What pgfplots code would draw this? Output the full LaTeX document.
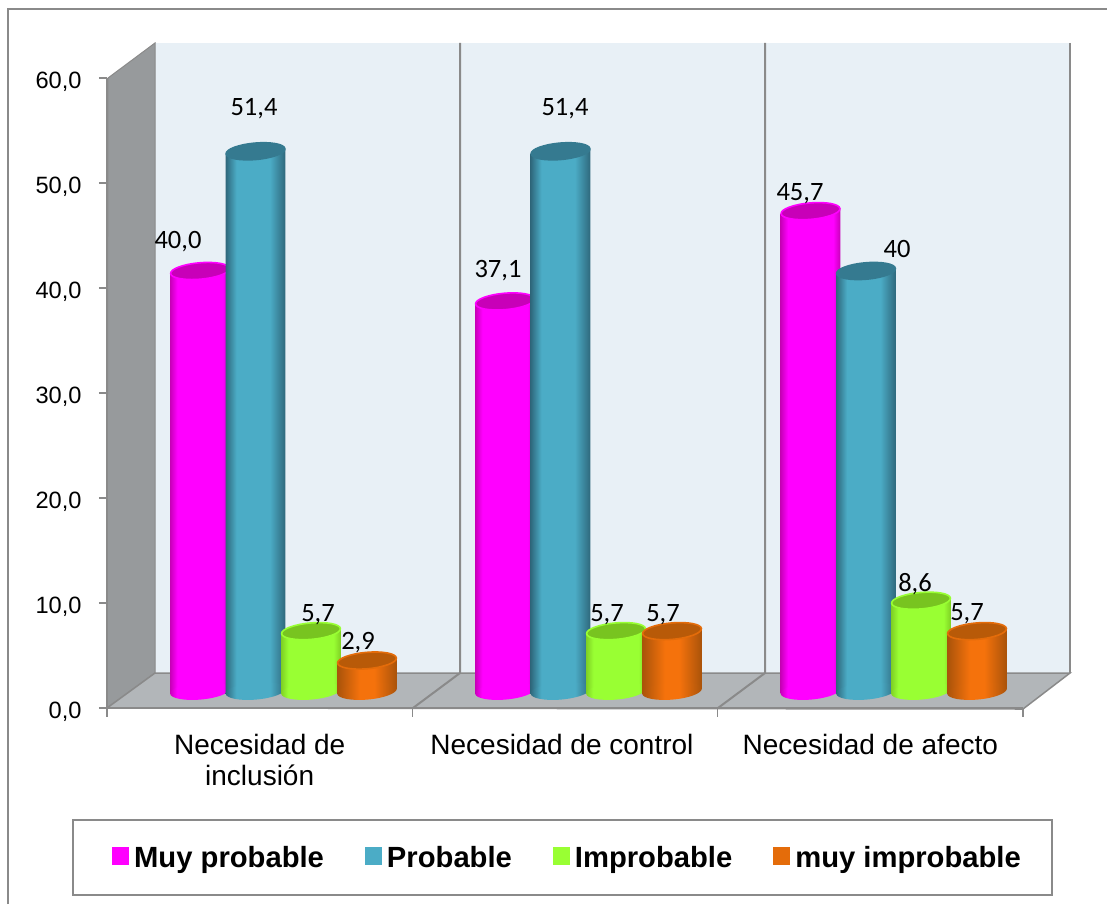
\documentclass[border=0pt]{standalone}
\usepackage{pgfplots}
\pgfplotsset{compat=1.18}
\usepackage{fontspec}
\setmainfont{Liberation Sans}
\newfontfamily\labelfont{Carlito}

% Palette
\definecolor{wallback}{HTML}{E8F0F6}
\definecolor{wallside}{HTML}{979A9C}
\definecolor{wallfloor}{HTML}{B2B6B9}
\definecolor{rule}{HTML}{8A8A8A}
\definecolor{edgeM}{HTML}{FF00FF}
\definecolor{capM}{HTML}{C800B8}
\definecolor{edgeB}{HTML}{357A90}
\definecolor{capB}{HTML}{357A90}
\definecolor{edgeG}{HTML}{99FF33}
\definecolor{capG}{HTML}{78C420}
\definecolor{edgeO}{HTML}{E46C0A}
\definecolor{capO}{HTML}{B85A08}

% Cylinder body shadings: dark rims, bright centre
\pgfdeclarehorizontalshading{cylM}{100bp}{color(0bp)=(capM); color(25bp)=(capM); color(31bp)=(edgeM); color(69bp)=(edgeM); color(75bp)=(capM); color(100bp)=(capM)}
\definecolor{midB}{HTML}{4BACC6}
\definecolor{rimB}{HTML}{2F687C}
\pgfdeclarehorizontalshading{cylB}{100bp}{color(0bp)=(rimB); color(25bp)=(rimB); color(34bp)=(midB); color(62bp)=(midB); color(75bp)=(rimB); color(100bp)=(rimB)}
\definecolor{rimG}{HTML}{7FD024}
\pgfdeclarehorizontalshading{cylG}{100bp}{color(0bp)=(rimG); color(25bp)=(rimG); color(31bp)=(edgeG); color(69bp)=(edgeG); color(75bp)=(rimG); color(100bp)=(rimG)}
\definecolor{midO}{HTML}{F5720C}
\definecolor{rimO}{HTML}{A9530A}
\pgfdeclarehorizontalshading{cylO}{100bp}{color(0bp)=(rimO); color(25bp)=(rimO); color(44bp)=(midO); color(56bp)=(midO); color(75bp)=(rimO); color(100bp)=(rimO)}

% End caps of the cylinders, tilted five degrees
\newcommand{\declarecaps}[1]{%
  \pgfdeclareplotmark{top#1}{%
    \pgfsetfillcolor{cap#1}\pgfsetstrokecolor{edge#1}\pgfsetlinewidth{1.6pt}%
    \pgfpathellipse{\pgfpointorigin}{\pgfqpoint{29.39pt}{2.57pt}}{\pgfqpoint{-0.71pt}{8.17pt}}%
    \pgfusepath{fill,stroke}}%
  \pgfdeclareplotmark{base#1}{%
    \pgfpathellipse{\pgfpointorigin}{\pgfqpoint{29.89pt}{2.61pt}}{\pgfqpoint{-0.75pt}{8.57pt}}%
    \pgfshadepath{cyl#1}{0}\pgfusepath{discard}}%
}
\declarecaps{M}\declarecaps{B}\declarecaps{G}\declarecaps{O}

% One cylinder: centre x, value, series
\newcommand{\cyl}[3]{%
  \pgfmathsetmacro\xa{#1-29.8}%
  \pgfmathsetmacro\xb{#1+29.8}%
  \pgfmathsetmacro\va{#2-0.23}%
  \pgfmathsetmacro\vb{#2+0.23}%
  \addplot[only marks,forget plot,mark=base#3] coordinates {(#1,0)};
  \edef\cylbody{\noexpand\addplot[forget plot,shade,shading=cyl#3,draw=none] coordinates {(\xa,\va)(\xb,\vb)(\xb,0.23)(\xa,-0.23)} -- cycle;}%
  \cylbody
  \addplot[only marks,forget plot,mark=top#3] coordinates {(#1,#2)};
}
% One value label: centre x, value, shift right, shift up, text
\newcommand{\vlabel}[5]{%
  \node[inner sep=0pt,font=\labelfont\fontsize{26.5}{28}\selectfont,text=black,xshift=#3pt,yshift=#4pt-2pt] at (axis cs:#1,#2) {#5};
}
% Page-sized axis whose value scale holds the cylinders
\pgfplotsset{seriesaxis/.style={
  at={(0pt,0pt)},anchor=south west,scale only axis,width=1107pt,height=904pt,
  xmin=0,xmax=1107,ymin=-20.286,ymax=65.81,hide axis,clip=false}}

\begin{document}
\begin{tikzpicture}[x=1pt,y=1pt]
\path[use as bounding box] (0,0) rectangle (1107pt,904pt);

% Walls, floor and surrounding frame
\begin{axis}[
  at={(0pt,0pt)},anchor=south west,scale only axis,width=1107pt,height=904pt,
  xmin=0,xmax=1107,ymin=0,ymax=904,y dir=reverse,hide axis,clip=false]
\addplot[draw=none,fill=wallback] coordinates {(155,43)(1070,43)(1070,673)(155,673)} -- cycle;
\addplot[draw=rule,line width=1pt,fill=wallside] coordinates {(108,78)(155,43)(155,673)(107,708)} -- cycle;
\addplot[draw=rule,line width=1.5pt,fill=wallfloor] coordinates {(107,708)(155,673)(1070,673)(1023,709)} -- cycle;
\addplot[rule,line width=2pt] coordinates {(460,43)(460,673)(413,708)};
\addplot[rule,line width=2pt] coordinates {(765,43)(765,673)(718,708)};
\addplot[rule,line width=2pt] coordinates {(1070,43)(1070,673)};
\addplot[rule,line width=2pt] coordinates {(8,904)(8,9)(1107,9)};
\end{axis}

% Value and category axes
\begin{axis}[
  at={(107pt,196pt)},anchor=south west,scale only axis,width=916pt,height=630pt,
  xmin=0,xmax=3,ymin=0,ymax=60,
  axis x line*=bottom,axis y line*=left,
  axis line style={rule,line width=1.5pt,-},
  tick style={rule,line width=1.5pt},
  ytick={0,10,...,60},major tick length=8pt,
  tick align=outside,
  /pgf/number format/fixed,
  /pgf/number format/fixed zerofill,
  /pgf/number format/precision=1,
  /pgf/number format/dec sep={,},
  /pgf/number format/assume math mode=true,
  y tick label style={font=\fontsize{23.6}{26}\selectfont,text=black,xshift=-14pt,yshift=-3.5pt},
  xtick={0.5,1.49,2.5},
  x tick style={draw=none},
  xticklabels={Necesidad de\\inclusión,Necesidad de control,Necesidad de afecto},
  x tick label style={font=\fontsize{28}{31}\selectfont,align=center,text=black,yshift=-15pt},
  minor xtick={0,1,2,3},
  minor x tick style={draw=rule,line width=1.5pt},
  minor tick length=9pt]
\end{axis}

% One axis per series, so that each series overlaps the one before it
\begin{axis}[seriesaxis]
\cyl{200}{40.0}{M}\cyl{505}{37.1}{M}\cyl{810.5}{45.7}{M}
\end{axis}
\begin{axis}[seriesaxis]
\cyl{255.5}{51.4}{B}\cyl{560.5}{51.4}{B}\cyl{866}{40.0}{B}
\end{axis}
\begin{axis}[seriesaxis]
\cyl{311}{5.7}{G}\cyl{616}{5.7}{G}\cyl{921}{8.6}{G}
\end{axis}
\begin{axis}[seriesaxis]
\cyl{367}{2.9}{O}\cyl{672}{5.7}{O}\cyl{977}{5.7}{O}
\end{axis}

% Value labels and legend
\begin{axis}[seriesaxis,
  legend columns=4,
  legend cell align=left,
  legend style={at={(562.5pt,46.5pt)},anchor=center,draw=rule,line width=1.5pt,fill=white,
    font=\bfseries\fontsize{29.2}{33}\selectfont,inner xsep=29pt,inner ysep=24pt,
    /tikz/every even column/.append style={column sep=39pt},
    /tikz/every odd column/.append style={column sep=3pt}},
  legend image code/.code={\path[draw=none,#1] (0pt,-7pt) rectangle (17pt,10pt);}]
\addlegendimage{legend image code/.code={\path[draw=none] (-10pt,0pt); \path[draw=none,fill=edgeM] (0pt,-7pt) rectangle (17pt,10pt);}}\addlegendentry{Muy probable}
\addlegendimage{fill=midB,draw=edgeB,line width=1pt}\addlegendentry{Probable}
\addlegendimage{fill=edgeG}\addlegendentry{Improbable}
\addlegendimage{fill=edgeO}\addlegendentry{muy improbable}

\vlabel{200}{40.0}{-22}{31}{40,0}
\vlabel{255.5}{51.4}{-1.5}{45}{51,4}
\vlabel{311}{5.7}{7}{18}{5,7}
\vlabel{367}{2.9}{-9}{19.5}{2,9}
\vlabel{505}{37.1}{-7}{32.5}{37,1}
\vlabel{560.5}{51.4}{4.5}{45}{51,4}
\vlabel{616}{5.7}{-9}{18}{5,7}
\vlabel{672}{5.7}{-9}{18}{5,7}
\vlabel{810.5}{45.7}{-10.5}{19}{45,7}
\vlabel{866}{40.0}{31}{24}{40}
\vlabel{921}{8.6}{-6}{19}{8,6}
\vlabel{977}{5.7}{-10}{19}{5,7}
\end{axis}
\end{tikzpicture}
\end{document}
